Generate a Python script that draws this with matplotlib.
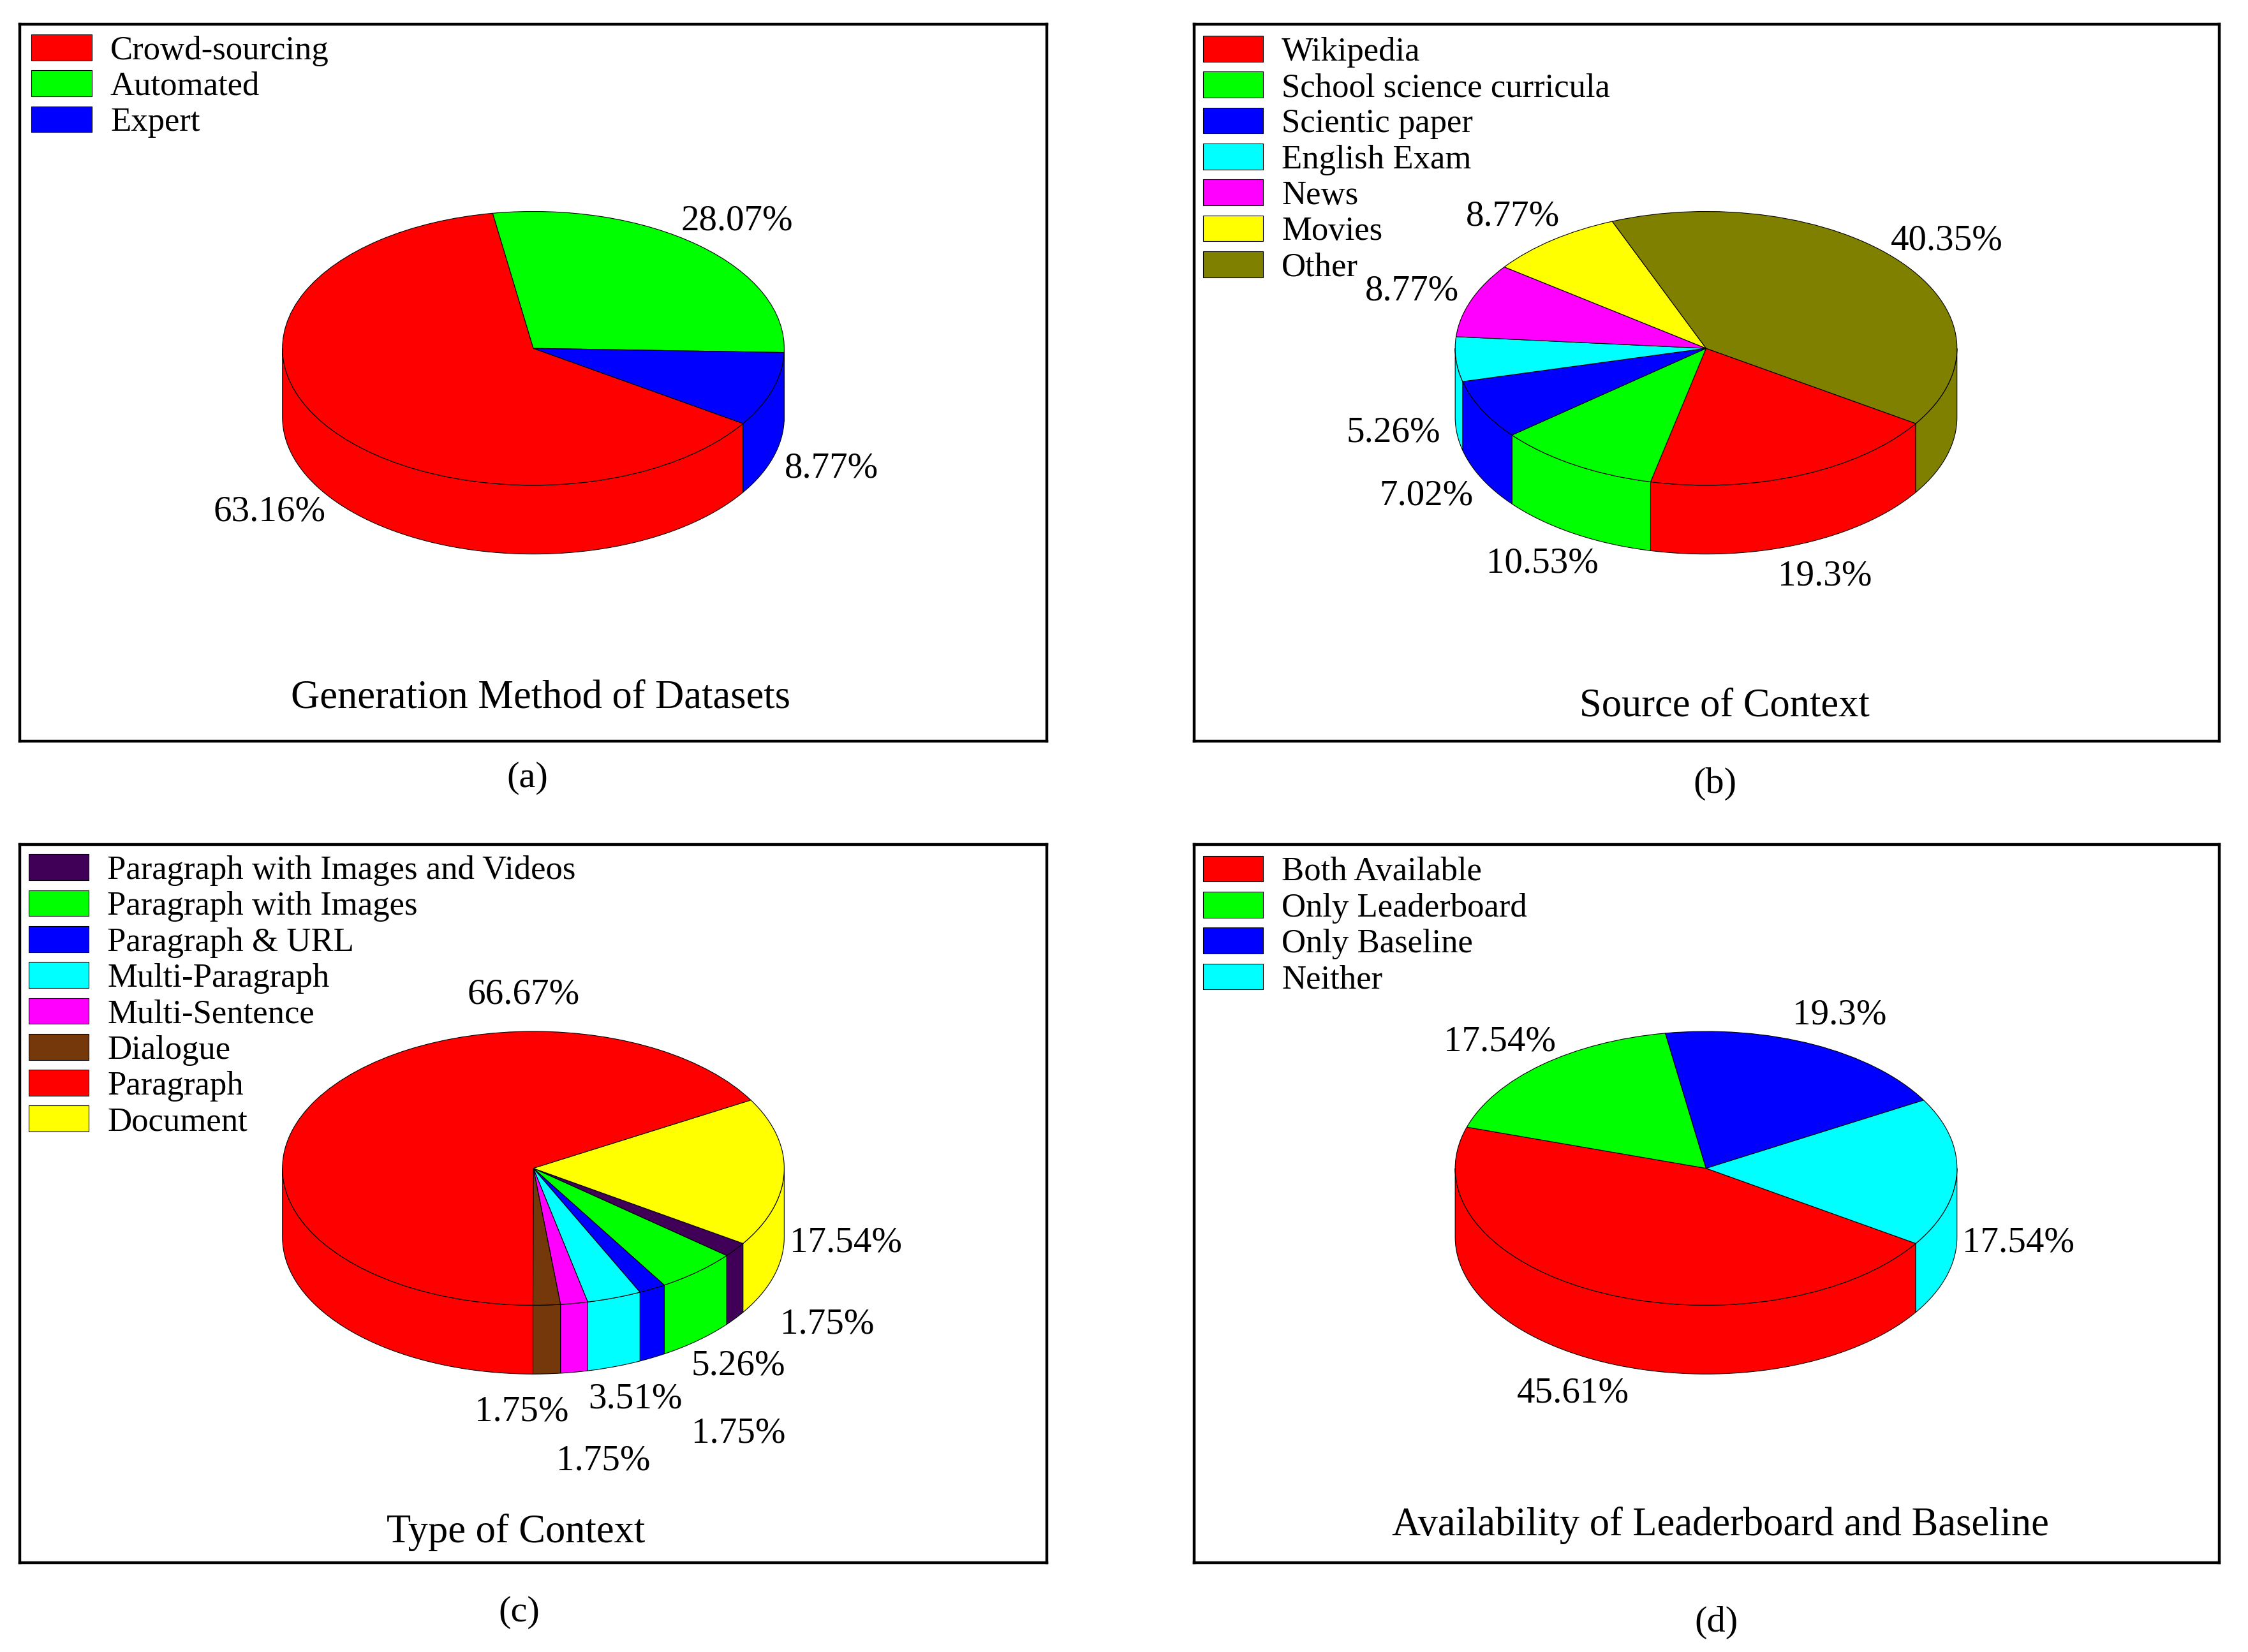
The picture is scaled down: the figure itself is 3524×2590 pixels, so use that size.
import matplotlib
matplotlib.use("Agg")
import matplotlib.pyplot as plt
import numpy as np

plt.rcParams['font.family'] = ['Liberation Serif', 'DejaVu Serif']

# 데이터
labels_a = ['Crowd-sourcing', 'Automated', 'Expert']
values_a = [63.16, 28.07, 8.77]
colors_a = ['#FF0000', '#00FF00', '#0000FF']

labels_b = ['Wikipedia', 'School science curricula', 'Scientic paper', 'English Exam',
            'News', 'Movies', 'Other']
values_b = [19.3, 10.53, 7.02, 5.26, 8.77, 8.77, 40.35]
colors_b = ['#FF0000', '#00FF00', '#0000FF', '#00FFFF', '#FF00FF', '#FFFF00', '#808000']

labels_c = ['Paragraph with Images and Videos', 'Paragraph with Images', 'Paragraph & URL',
            'Multi-Paragraph', 'Multi-Sentence', 'Dialogue', 'Paragraph', 'Document']
values_c = [1.75, 5.26, 1.75, 3.51, 1.75, 1.75, 66.67, 17.54]
colors_c = ['#400058', '#00FF00', '#0000FF', '#00FFFF', '#FF00FF', '#74380A', '#FF0000', '#FFFF00']

labels_d = ['Both Available', 'Only Leaderboard', 'Only Baseline', 'Neither']
values_d = [45.61, 17.54, 19.3, 17.54]
colors_d = ['#FF0000', '#00FF00', '#0000FF', '#00FFFF']

titles = ['Generation Method of Datasets', 'Source of Context', 'Type of Context',
          'Availability of Leaderboard and Baseline']
captions = ['(a)', '(b)', '(c)', '(d)']

W, H = 3524, 2590
S = W / 1568  # 좌표는 1568px 폭 기준으로 읽음
START = -33.3
RX, RY, DEPTH = 175, 95.5, 48

fig = plt.figure(figsize=(W / 100, H / 100), dpi=100, facecolor='white')


def fx(x):
    return x * S / W


def fy(y):
    return 1 - y * S / H


def draw_panel(frame, center, values, labels, colors, label_pos, legend_xy, title, title_xy, cap, cap_xy):
    x0, y0, x1, y1 = frame
    ax = fig.add_axes([fx(x0), fy(y1), fx(x1) - fx(x0), fy(y0) - fy(y1)])
    wedges, _ = ax.pie(values, colors=colors, startangle=START, counterclock=False,
                       wedgeprops=dict(edgecolor='black', linewidth=0.8, zorder=3))
    ax.set_aspect('auto')
    ax.set_frame_on(True)
    ax.set_xlim((x0 - center[0]) / RX, (x1 - center[0]) / RX)
    ax.set_ylim((center[1] - y1) / RY, (center[1] - y0) / RY)
    ax.set_xticks([])
    ax.set_yticks([])
    for s in ax.spines.values():
        s.set_linewidth(3.2)

    # 옆면
    depth = DEPTH / RY
    fracs = np.array(values) / sum(values)
    edges = START - 360 * np.concatenate([[0], np.cumsum(fracs)])
    for i, c in enumerate(colors):
        hi, lo = edges[i], edges[i + 1]
        for a, b in [(hi, lo), (hi + 360, lo + 360), (hi - 360, lo - 360)]:
            b2, a2 = max(b, -180), min(a, 0)
            if a2 <= b2:
                continue
            t = np.radians(np.linspace(b2, a2, 80))
            xs = np.cos(t)
            ax.fill(np.r_[xs, xs[::-1]], np.r_[np.sin(t), np.sin(t[::-1]) - depth],
                    facecolor=c, edgecolor='black', linewidth=0.8, zorder=2)

    ax.legend(wedges, labels, loc='upper left', frameon=False, fontsize=38,
              bbox_to_anchor=(fx(legend_xy[0]), fy(legend_xy[1])), bbox_transform=fig.transFigure,
              borderpad=0, borderaxespad=0, handlelength=1.79, handleheight=0.81,
              handletextpad=0.55, labelspacing=0.125)

    for v, (lx, ly) in zip(values, label_pos):
        fig.text(fx(lx), fy(ly + 2), f'{v:g}%', fontsize=41, ha='center', va='center')
    fig.text(fx(title_xy[0]), fy(title_xy[1] + 2), title, fontsize=45, ha='center', va='center')
    fig.text(fx(cap_xy[0]), fy(cap_xy[1] + 2), cap, fontsize=42, ha='center', va='center')


draw_panel((14, 17, 730, 517), (372, 243), values_a, labels_a, colors_a,
           [(188, 355), (514, 152), (580, 325)],
           (22, 24), titles[0], (377, 485), captions[0], (368, 541))
draw_panel((833, 17, 1548, 517), (1190, 243), values_b, labels_b, colors_b,
           [(1273, 400), (1076, 391), (995, 344), (972, 300), (985, 201), (1055, 149), (1358, 166)],
           (839, 25), titles[1], (1203, 491), captions[1], (1196, 545))
draw_panel((14, 589, 730, 1090), (372, 815), values_c, labels_c, colors_c,
           [(577, 922), (515, 951), (515, 998), (443, 974), (421, 1017), (364, 983), (365, 692), (590, 865)],
           (20, 596), titles[2], (360, 1067), captions[2], (362, 1123))
draw_panel((833, 589, 1548, 1090), (1190, 815), values_d, labels_d, colors_d,
           [(1097, 970), (1046, 725), (1283, 706), (1408, 865)],
           (839, 597), titles[3], (1200, 1062), captions[3], (1197, 1130))

fig.savefig('out.png', dpi=100)
